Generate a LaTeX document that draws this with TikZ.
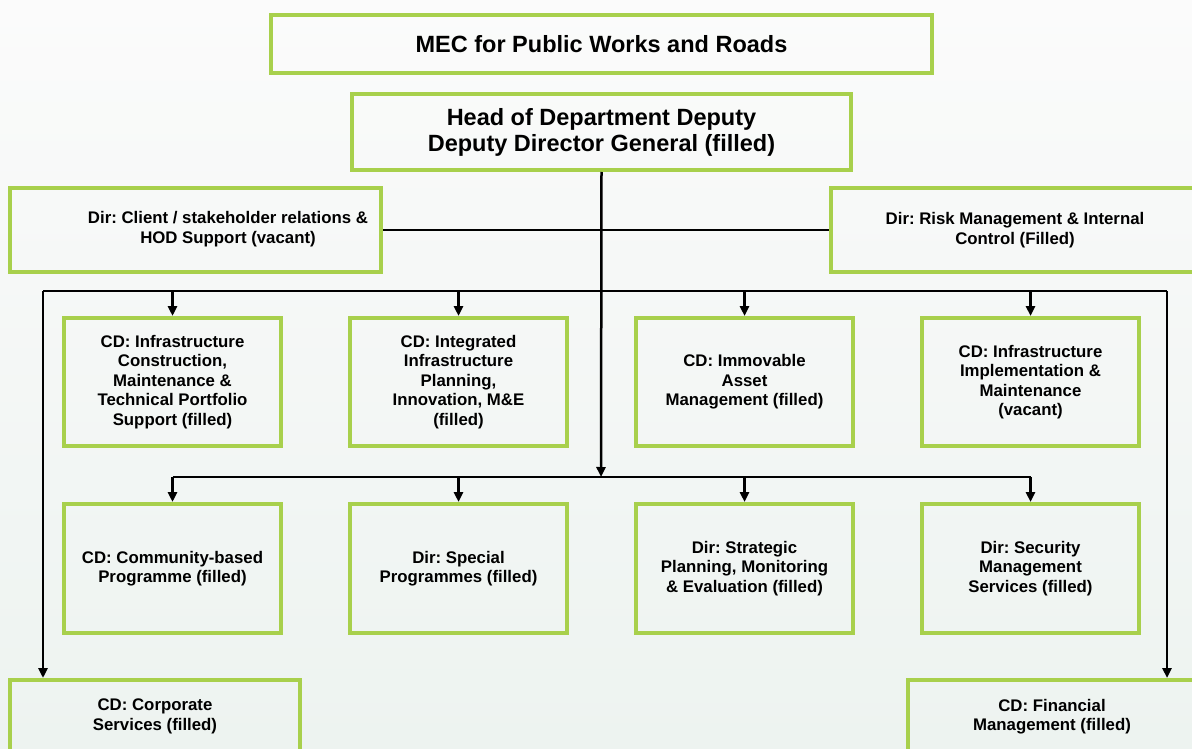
\documentclass[tikz,border=0pt]{standalone}
\usepackage{fontspec}
\setmainfont{Liberation Sans}
\usetikzlibrary{arrows.meta}
\definecolor{boxgreen}{HTML}{A8D04C}
\definecolor{bgtop}{HTML}{FBFBFB}
\definecolor{bgbot}{HTML}{EDF3F0}
\frenchspacing
\begin{document}
\frenchspacing
\begin{tikzpicture}[x=1pt,y=-1pt,
  box/.style={draw=boxgreen, line width=4pt, inner sep=0pt, align=center,
    font=\fontsize{16.8}{19.4}\selectfont\bfseries\frenchspacing},
  bigbox/.style={box, font=\fontsize{23.5}{26}\selectfont\bfseries\frenchspacing},
  txt/.style={inner sep=0pt, align=center, font=\fontsize{16.8}{19.4}\selectfont\bfseries\frenchspacing},
  conn/.style={line width=2.5pt, draw=black},
  arr/.style={conn, -{Triangle[length=10pt,width=9pt]}},
  toprow/.style={box, minimum width=217pt, minimum height=128pt},
  botrow/.style={box, minimum width=217pt, minimum height=129pt}]
\shade[top color=bgtop, bottom color=bgbot] (0,0) rectangle (1192,749);
\useasboundingbox (0,0) rectangle (1192,749);
\clip (0,0) rectangle (1192,749);

\node[bigbox, minimum width=661pt, minimum height=58pt] (mec) at (601.5,44) {MEC for Public Works and Roads};
\node[bigbox, minimum width=499pt, minimum height=76pt] (hod) at (601.5,132) {Head of Department Deputy\\Deputy Director General (filled)};

\node[box, minimum width=371pt, minimum height=84pt] (client) at (195.5,230) {};
\node[txt] (clientT) at (228,229) {Dir: Client / stakeholder relations \&\\HOD Support (vacant)};
\node[box, minimum width=368pt, minimum height=84pt] (risk) at (1015,230) {Dir: Risk Management \& Internal\\Control (Filled)};

\node[toprow] (t1) at (172.5,382) {CD: Infrastructure\\Construction,\\Maintenance \&\\Technical Portfolio\\Support (filled)};
\node[toprow] (t2) at (458.5,382) {CD: Integrated\\Infrastructure\\Planning,\\Innovation, M\&E\\(filled)};
\node[toprow] (t3) at (744.5,382) {CD: Immovable\\Asset\\Management (filled)};
\node[toprow] (t4) at (1030.5,382) {CD: Infrastructure\\Implementation \&\\Maintenance\\(vacant)};

\node[botrow] (b1) at (172.5,568.5) {CD: Community-based\\Programme (filled)};
\node[botrow] (b2) at (458.5,568.5) {Dir: Special\\Programmes (filled)};
\node[botrow] (b3) at (744.5,568.5) {Dir: Strategic\\Planning, Monitoring\\\& Evaluation (filled)};
\node[botrow] (b4) at (1030.5,568.5) {Dir: Security\\Management\\Services (filled)};

\node[box, minimum width=290pt, minimum height=73pt] (corp) at (155,716.5) {CD: Corporate\\Services (filled)};
\node[box, minimum width=288pt, minimum height=73pt] (fin) at (1052,716.5) {CD: Financial\\Management (filled)};

\coordinate (ubL) at (43,291);
\coordinate (ubR) at (1167,291);
\coordinate (lb) at (601,477);

% connectors
\draw[conn] (client.east) -- (risk.west);
\draw[arr] (hod.south) -- (lb);
\draw[conn] (ubL) -- (ubR);
\draw[arr] (ubL) -- (ubL |- corp.north);
\draw[arr] (ubR) -- (ubR |- fin.north);
\foreach \n in {t1,t2,t3,t4} {\draw[arr] (\n.north |- ubL) -- (\n.north);}
\draw[conn] (b1.north |- lb) -- (b4.north |- lb);
\foreach \n in {b1,b2,b3,b4} {\draw[arr] (\n.north |- lb) -- (\n.north);}
\end{tikzpicture}
\end{document}
